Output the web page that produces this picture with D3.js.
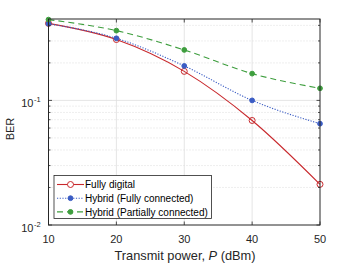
<!DOCTYPE html>
<html>
<head>
<meta charset="utf-8">
<script src="https://cdn.jsdelivr.net/npm/d3@7"></script>
<style>
  body { margin: 0; background: #fff; }
  svg { display: block; font-family: "Liberation Sans", Arial, sans-serif; }
</style>
</head>
<body>
<svg id="chart" width="354" height="267"></svg>
<script>
// data
var powers = [10, 20, 30, 40, 50];
var fullyDigital = [0.415, 0.308, 0.171, 0.069, 0.0212];
var hybridFull = [0.412, 0.315, 0.189, 0.100, 0.065];
var hybridPartial = [0.445, 0.363, 0.254, 0.164, 0.125];
var seriesNames = ["Fully digital", "Hybrid (Fully connected)", "Hybrid (Partially connected)"];
var xTicks = [10, 20, 30, 40, 50];
var yMajor = [0.01, 0.1];

var series = [
    {name: seriesNames[0], values: fullyDigital, color: "#c8282c", dash: null, open: true},
    {name: seriesNames[1], values: hybridFull, color: "#3a5cc4", dash: "1.2,1.5", open: false},
    {name: seriesNames[2], values: hybridPartial, color: "#3e9e3e", dash: "6,4", open: false}
];

var svg = d3.select("#chart");
// plot box (note: "top" is taken by window.top, so use plotTop etc.)
var plotLeft = 48.5, plotRight = 320, plotTop = 19, plotBottom = 225;

var x = d3.scaleLinear().domain([10, 50]).range([plotLeft, plotRight]);
var y = d3.scaleLog().domain([0.01, 0.45]).range([plotBottom, plotTop]);

var axisColor = "#262626";

// minor y values (2..9 per decade, inside the domain)
var yMinor = [];
[0.01, 0.1].forEach(function(d){
    for (var k = 2; k <= 9; k++){
        var v = d * k;
        if (v < 0.45) yMinor.push(v);
    }
});

var grid = svg.append("g");
// minor horizontal grid, dotted
grid.selectAll(".minor")
    .data(yMinor)
    .enter()
    .append("line")
        .attr("x1", plotLeft).attr("x2", plotRight)
        .attr("y1", d => y(d)).attr("y2", d => y(d))
        .attr("stroke", "#c8c8c8")
        .attr("stroke-width", 0.6)
        .attr("stroke-dasharray", "1,2");
// major grid
grid.selectAll(".hmajor")
    .data(yMajor.filter(d => d > 0.01))
    .enter()
    .append("line")
        .attr("x1", plotLeft).attr("x2", plotRight)
        .attr("y1", d => y(d)).attr("y2", d => y(d))
        .attr("stroke", "#dedede")
        .attr("stroke-width", 0.8);
grid.selectAll(".vmajor")
    .data(xTicks.slice(1, -1))
    .enter()
    .append("line")
        .attr("y1", plotTop).attr("y2", plotBottom)
        .attr("x1", d => x(d)).attr("x2", d => x(d))
        .attr("stroke", "#dedede")
        .attr("stroke-width", 0.8);

// lines
var line = d3.line()
    .x((d, i) => x(powers[i]))
    .y(d => y(d))
    .curve(d3.curveMonotoneX);

var lines = svg.append("g");
series.forEach(function(s){
    lines.append("path")
        .attr("d", line(s.values))
        .attr("fill", "none")
        .attr("stroke", s.color)
        .attr("stroke-width", 1.1)
        .attr("stroke-dasharray", s.dash);
    lines.selectAll(null)
        .data(s.values)
        .enter()
        .append("circle")
            .attr("cx", (d, i) => x(powers[i]))
            .attr("cy", d => y(d))
            .attr("r", s.open ? 3 : 2.4)
            .attr("fill", s.open ? "none" : s.color)
            .attr("stroke", s.color)
            .attr("stroke-width", 1);
});

// box
svg.append("rect")
    .attr("x", plotLeft).attr("y", plotTop)
    .attr("width", plotRight - plotLeft).attr("height", plotBottom - plotTop)
    .attr("fill", "none")
    .attr("stroke", axisColor)
    .attr("stroke-width", 1);

// ticks (inward, all sides)
var ticks = svg.append("g").attr("stroke", axisColor).attr("stroke-width", 0.8);
xTicks.forEach(function(t){
    ticks.append("line").attr("x1", x(t)).attr("x2", x(t)).attr("y1", plotBottom).attr("y2", plotBottom - 3.5);
    ticks.append("line").attr("x1", x(t)).attr("x2", x(t)).attr("y1", plotTop).attr("y2", plotTop + 3.5);
});
yMajor.forEach(function(t){
    ticks.append("line").attr("x1", plotLeft).attr("x2", plotLeft + 3.5).attr("y1", y(t)).attr("y2", y(t));
    ticks.append("line").attr("x1", plotRight).attr("x2", plotRight - 3.5).attr("y1", y(t)).attr("y2", y(t));
});
yMinor.forEach(function(t){
    ticks.append("line").attr("x1", plotLeft).attr("x2", plotLeft + 2).attr("y1", y(t)).attr("y2", y(t));
    ticks.append("line").attr("x1", plotRight).attr("x2", plotRight - 2).attr("y1", y(t)).attr("y2", y(t));
});

// tick labels
svg.append("g")
    .selectAll("text")
    .data(xTicks)
    .enter()
    .append("text")
        .attr("x", d => x(d))
        .attr("y", 243)
        .attr("text-anchor", "middle")
        .attr("font-size", 11)
        .attr("fill", "#262626")
        .text(d => d);

var yl = svg.append("g")
    .selectAll("g")
    .data(yMajor)
    .enter()
    .append("g");
yl.append("text")
    .attr("x", 33.5)
    .attr("y", d => y(d) + 6.5)
    .attr("text-anchor", "end")
    .attr("font-size", 11)
    .attr("fill", "#262626")
    .text("10");
yl.append("text")
    .attr("x", 34)
    .attr("y", d => y(d) + 1.5)
    .attr("font-size", 7.5)
    .attr("fill", "#262626")
    .text(d => "-" + Math.round(-Math.log10(d)));

// axis titles
svg.append("text")
    .attr("x", 185)
    .attr("y", 260)
    .attr("text-anchor", "middle")
    .attr("font-size", 12.8)
    .attr("fill", "#262626")
    .html('Transmit power, <tspan font-style="italic">P</tspan> (dBm)');

svg.append("text")
    .attr("transform", "translate(14,129) rotate(-90)")
    .attr("text-anchor", "middle")
    .attr("font-size", 11)
    .attr("fill", "#262626")
    .text("BER");

// legend
var lg = svg.append("g");
lg.append("rect")
    .attr("x", 54).attr("y", 175.5)
    .attr("width", 157.5).attr("height", 43)
    .attr("fill", "#fff")
    .attr("stroke", axisColor)
    .attr("stroke-width", 0.8);
series.forEach(function(s, i){
    var ly = 184.5 + i * 13.7;
    lg.append("line")
        .attr("x1", 57).attr("x2", 84)
        .attr("y1", ly).attr("y2", ly)
        .attr("stroke", s.color)
        .attr("stroke-width", 1.1)
        .attr("stroke-dasharray", s.dash);
    lg.append("circle")
        .attr("cx", 70.5).attr("cy", ly)
        .attr("r", s.open ? 3 : 2.4)
        .attr("fill", s.open ? "#fff" : s.color)
        .attr("stroke", s.color);
    lg.append("text")
        .attr("x", 85)
        .attr("y", ly + 3.6)
        .attr("font-size", 10)
        .attr("fill", "#000")
        .text(s.name);
});
</script>
</body>
</html>
